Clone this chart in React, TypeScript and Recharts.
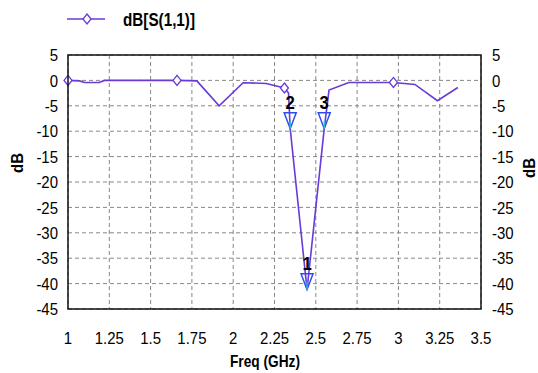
import { LineChart, Line, XAxis, YAxis, CartesianGrid, ReferenceDot } from 'recharts';

const FONT = "'Liberation Sans', Arial, sans-serif";
const LINE_COLOR = '#6a3ad8';
const MARKER_COLOR = '#2f4cf0';
const NARROW = 0.88; // squeeze Arial toward the narrow face of the original

// chart box
const W = 538;
const H = 373;
const TOP = 55;
const LEFT_AXIS_W = 68;
const RIGHT_AXIS_W = 57;
const X_AXIS_H = 64;

// S11 trace
const freqGHz = [1, 1.07, 1.1, 1.19, 1.22, 1.66, 1.78, 1.915, 2.06, 2.2, 2.31, 2.335, 2.345, 2.447, 2.551, 2.58, 2.7, 2.97, 3.1, 3.236, 3.36];
const s11dB = [0, -0.1, -0.4, -0.4, 0, 0, -0.1, -5.0, -0.45, -0.6, -1.5, -2.5, -9.5, -41.2, -9.5, -1.9, -0.4, -0.4, -0.8, -4.0, -1.4];

// diamond symbols drawn on the trace
const diamondFreq = [1, 1.66, 2.31, 2.97];
const diamondDb = [0, 0, -1.5, -0.4];

// numbered markers
const markerFreq = [2.447, 2.345, 2.551];
const markerDb = [-41.2, -9.5, -9.5];
const markerLabel = ['1', '2', '3'];

const xTicks = [1, 1.25, 1.5, 1.75, 2, 2.25, 2.5, 2.75, 3, 3.25, 3.5];
const yTicks = [5, 0, -5, -10, -15, -20, -25, -30, -35, -40, -45];

const data = freqGHz.map((f, i) => ({ f, db: s11dB[i] }));

function NarrowText({ x, y, anchor, dy, size = 17, bold = false, rotate = 0, len, children }: any) {
  const scale = len ? '' : ` scale(${NARROW},1)`;
  return (
    <text
      transform={`translate(${x},${y}) rotate(${rotate})${scale}`}
      x={0}
      y={0}
      dy={dy}
      textAnchor={anchor}
      fontSize={size}
      fontWeight={bold ? 'bold' : 'normal'}
      fontFamily={FONT}
      fill="#000"
      textLength={len}
      lengthAdjust={len ? 'spacingAndGlyphs' : undefined}
    >
      {children}
    </text>
  );
}

const XTick = ({ x, y, payload }: any) => (
  <NarrowText x={x} y={y} anchor="middle" dy="0.71em">{payload.value}</NarrowText>
);
const LeftTick = ({ x, y, payload }: any) => (
  <NarrowText x={x} y={y} anchor="end" dy="0.36em">{payload.value}</NarrowText>
);
const RightTick = ({ x, y, payload }: any) => (
  <NarrowText x={x} y={y} anchor="start" dy="0.36em">{payload.value}</NarrowText>
);

function Diamond({ cx, cy }: any) {
  if (cx == null || cy == null) return null;
  return (
    <polygon
      points={`${cx},${cy - 5} ${cx + 4},${cy} ${cx},${cy + 5} ${cx - 4},${cy}`}
      fill="#fff"
      stroke={LINE_COLOR}
      strokeWidth={1.3}
    />
  );
}

function makeMarker(label: string) {
  return ({ cx, cy }: any) => {
    if (cx == null || cy == null) return null;
    return (
      <g>
        <polygon
          points={`${cx - 6},${cy - 16} ${cx + 6},${cy - 16} ${cx},${cy}`}
          fill="none"
          stroke={MARKER_COLOR}
          strokeWidth={1.5}
        />
        <line x1={cx} y1={cy - 8} x2={cx} y2={cy} stroke="#20d8d8" strokeWidth={1.2} />
        <NarrowText x={cx} y={cy - 20} anchor="middle" size={19} bold>{label}</NarrowText>
      </g>
    );
  };
}

export default function App() {
  return (
    <div style={{ position: 'absolute', left: 0, top: 0, width: W, height: H, background: '#fff' }}>
      <LineChart width={W} height={H} data={data} margin={{ top: TOP, right: 0, bottom: 0, left: 0 }}>
        <CartesianGrid yAxisId="left" stroke="#888" strokeDasharray="4 3" strokeWidth={1} />
        <XAxis
          dataKey="f"
          type="number"
          domain={[1, 3.5]}
          ticks={xTicks}
          interval={0}
          height={X_AXIS_H}
          axisLine={false}
          tickLine={false}
          tickMargin={17}
          tick={<XTick />}
        />
        <YAxis
          yAxisId="left"
          type="number"
          domain={[-45, 5]}
          ticks={yTicks}
          interval={0}
          width={LEFT_AXIS_W}
          axisLine={false}
          tickLine={false}
          tickMargin={4}
          tick={<LeftTick />}
        />
        <YAxis
          yAxisId="right"
          orientation="right"
          type="number"
          domain={[-45, 5]}
          ticks={yTicks}
          interval={0}
          width={RIGHT_AXIS_W}
          axisLine={false}
          tickLine={false}
          tickMargin={5}
          tick={<RightTick />}
        />
        <Line
          yAxisId="right"
          dataKey="db"
          stroke="none"
          dot={false}
          activeDot={false}
          isAnimationActive={false}
        />
        <Line
          yAxisId="left"
          type="linear"
          dataKey="db"
          stroke={LINE_COLOR}
          strokeWidth={1.6}
          dot={false}
          activeDot={false}
          isAnimationActive={false}
        />
        {diamondFreq.map((f, i) => (
          <ReferenceDot key={`d${i}`} yAxisId="left" x={f} y={diamondDb[i]} shape={Diamond} />
        ))}
        {markerFreq.map((f, i) => (
          <ReferenceDot key={`m${i}`} yAxisId="left" x={f} y={markerDb[i]} shape={makeMarker(markerLabel[i])} />
        ))}
      </LineChart>
      <svg width={W} height={H} style={{ position: 'absolute', left: 0, top: 0, pointerEvents: 'none' }}>
        {/* plot frame */}
        <rect
          x={LEFT_AXIS_W}
          y={TOP}
          width={W - LEFT_AXIS_W - RIGHT_AXIS_W}
          height={H - TOP - X_AXIS_H}
          fill="none"
          stroke="#111"
          strokeWidth={1.5}
        />
        <line x1={67} y1={19} x2={105} y2={19} stroke={LINE_COLOR} strokeWidth={1.5} />
        <Diamond cx={87} cy={19} />
        <NarrowText x={123} y={26} anchor="start" size={18} bold len={72}>dB[S(1,1)]</NarrowText>
        <NarrowText x={17} y={163} anchor="middle" dy="0.36em" size={17} bold rotate={-90} len={20}>dB</NarrowText>
        <NarrowText x={529} y={168} anchor="middle" dy="0.36em" size={17} bold rotate={-90} len={20}>dB</NarrowText>
        <NarrowText x={265} y={367} anchor="middle" size={17} bold len={70}>Freq (GHz)</NarrowText>
      </svg>
    </div>
  );
}
